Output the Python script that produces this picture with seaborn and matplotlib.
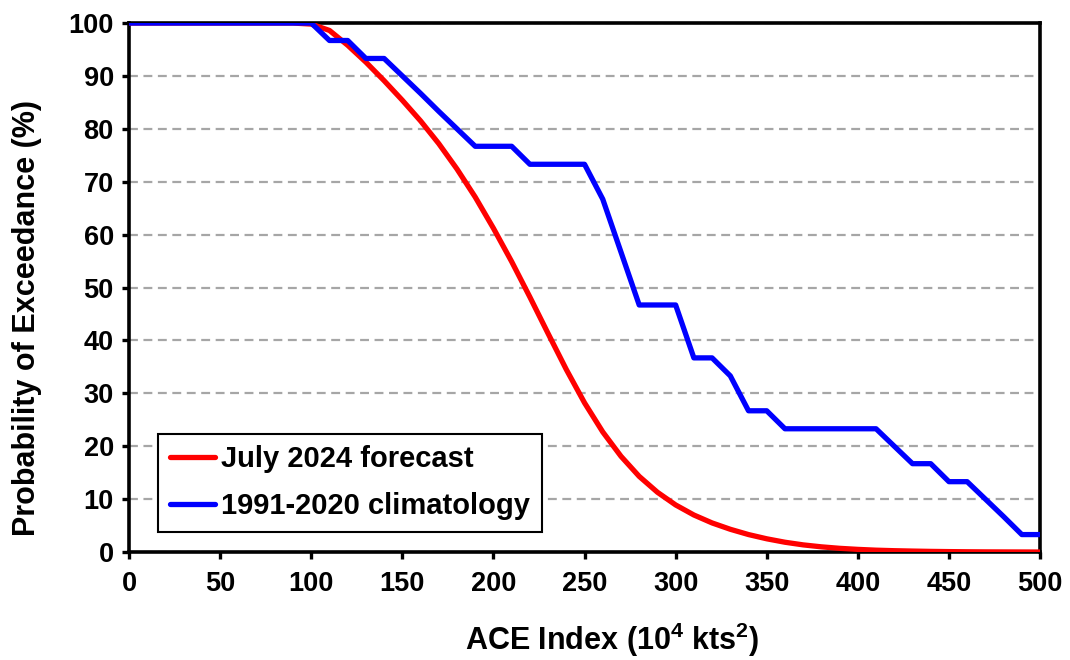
import numpy as np
import pandas as pd
import matplotlib
matplotlib.use('Agg')
import matplotlib.pyplot as plt
import seaborn as sns

# ACE Index values (10^4 kts^2) at 10-unit steps
ace = list(range(0, 510, 10))

# July 2024 forecast (probability of exceedance, %)
forecast = [100, 100, 100, 100, 100, 100, 100, 100, 100, 100,
            99.8, 98.6, 95.8, 92.6, 89.1, 85.4, 81.5, 77.2, 72.4, 67.1,
            61.2, 54.9, 48.2, 41.3, 34.5, 28.2, 22.7, 18.1, 14.3, 11.3,
            8.9, 7.0, 5.5, 4.3, 3.3, 2.5, 1.85, 1.35, 0.98, 0.7,
            0.5, 0.35, 0.25, 0.18, 0.12, 0.08, 0.05, 0.03, 0.02, 0.01, 0.0]

# 1991-2020 climatology (30 seasons -> steps of 3.33 %)
climatology = [100, 100, 100, 100, 100, 100, 100, 100, 100, 100,
               100, 96.7, 96.7, 93.3, 93.3, 90.0, 86.7, 83.3, 80.0, 76.7,
               76.7, 76.7, 73.3, 73.3, 73.3, 73.3, 66.7, 56.7, 46.7, 46.7,
               46.7, 36.7, 36.7, 33.3, 26.7, 26.7, 23.3, 23.3, 23.3, 23.3,
               23.3, 23.3, 20.0, 16.7, 16.7, 13.3, 13.3, 10.0, 6.7, 3.3, 3.3]

df = pd.DataFrame({'ACE': ace, 'July 2024 forecast': forecast,
                   '1991-2020 climatology': climatology})
df_long = df.melt(id_vars='ACE', var_name='serie', value_name='prob')

sns.set_style('white')
plt.rcParams['font.family'] = ['Liberation Sans', 'DejaVu Sans']
plt.rcParams['font.weight'] = 'bold'
plt.rcParams['text.color'] = 'black'
plt.rcParams['axes.labelcolor'] = 'black'
plt.rcParams['xtick.color'] = 'black'
plt.rcParams['ytick.color'] = 'black'
plt.rcParams['mathtext.fontset'] = 'custom'
plt.rcParams['mathtext.rm'] = 'Liberation Sans:bold'
plt.rcParams['mathtext.bf'] = 'Liberation Sans:bold'
plt.rcParams['mathtext.default'] = 'bf'

fig = plt.figure(figsize=(10.7, 6.6), dpi=100)
ax = fig.add_axes([0.1206, 0.1636, 0.8514, 0.8015])

sns.lineplot(data=df_long, x='ACE', y='prob', hue='serie',
             palette={'July 2024 forecast': '#ff0000', '1991-2020 climatology': '#0000ff'},
             linewidth=3.8, ax=ax, zorder=3)

ax.set_xlim(0, 500)
ax.set_ylim(0, 100)
ax.set_xticks(range(0, 501, 50))
ax.set_yticks(range(0, 101, 10))
ax.yaxis.grid(True, color='#a6a6a6', linestyle=(0, (4, 2.5)), linewidth=1.6)
ax.xaxis.grid(False)
ax.set_axisbelow(True)

for s in ax.spines.values():
    s.set_color('black')
    s.set_linewidth(2.6)
    s.set_visible(True)

ax.tick_params(axis='both', which='major', direction='out', length=5, width=2.4,
               labelsize=19.5, color='black', labelcolor='black', bottom=True, left=True)
ax.tick_params(axis='x', pad=9)
ax.tick_params(axis='y', pad=6)
for lab in ax.get_xticklabels() + ax.get_yticklabels():
    lab.set_fontweight('bold')

ax.set_xlabel('ACE Index (10$^4$ kts$^2$)', fontsize=22, fontweight='bold')
ax.xaxis.set_label_coords(0.53, -0.129)
ax.set_ylabel('Probability of Exceedance (%)', fontsize=22, fontweight='bold')
ax.yaxis.set_label_coords(-0.096, 0.442)

leg = ax.legend(loc='lower left', bbox_to_anchor=(0.032, 0.038), borderaxespad=0,
                fontsize=21, frameon=True, fancybox=False, edgecolor='black', framealpha=1,
                handlelength=1.55, handletextpad=0.2, borderpad=0.4, labelspacing=0.65,
                title=None)
leg.get_frame().set_linewidth(1.5)
for t in leg.get_texts():
    t.set_fontweight('bold')
    t.set_color('black')

plt.savefig('out.png', dpi=100)
plt.close()
